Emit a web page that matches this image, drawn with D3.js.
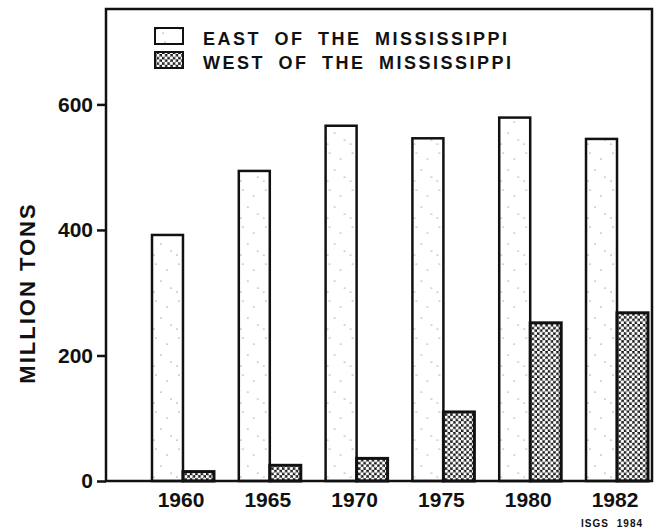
<!DOCTYPE html>
<html>
<head>
<meta charset="utf-8">
<script src="https://cdn.jsdelivr.net/npm/d3@7"></script>
<style>
  body { margin: 0; background: #fff; }
  text { font-family: "Liberation Sans", Arial, sans-serif; font-weight: bold; fill: #111; }
</style>
</head>
<body>
<div id="chart"></div>
<script>
// coal production, million tons
var years = ["1960", "1965", "1970", "1975", "1980", "1982"]
var east = [392, 494, 566, 546, 579, 545]
var west = [15, 25, 36, 110, 252, 268]
var series = ["east", "west"]
var legendLabels = ["EAST OF THE MISSISSIPPI", "WEST OF THE MISSISSIPPI"]
var yTicks = [0, 200, 400, 600]

var W = 660, H = 529
var plotL = 106, plotR = 652, plotT = 9, plotB = 481

var svg = d3.select("#chart").append("svg")
  .attr("width", W)
  .attr("height", H)

var defs = svg.append("defs")

// light stipple for east
var pe = defs.append("pattern")
  .attr("id", "stipple")
  .attr("patternUnits", "userSpaceOnUse")
  .attr("width", 23).attr("height", 37)
pe.append("rect").attr("width", 23).attr("height", 37).attr("fill", "#fff")
;[[4, 5], [15, 11], [9, 22], [19, 29], [2, 33]].forEach(function (p) {
  pe.append("circle").attr("cx", p[0]).attr("cy", p[1]).attr("r", 0.6).attr("fill", "#555")
})

// dense dot net for west
var pw = defs.append("pattern")
  .attr("id", "dots")
  .attr("patternUnits", "userSpaceOnUse")
  .attr("width", 5.4).attr("height", 5.4)
pw.append("rect").attr("width", 5.4).attr("height", 5.4).attr("fill", "#1a1a1a")
pw.append("circle").attr("cx", 1.35).attr("cy", 1.35).attr("r", 1.7).attr("fill", "#fff")
pw.append("circle").attr("cx", 4.05).attr("cy", 4.05).attr("r", 1.7).attr("fill", "#fff")

var fills = { east: "url(#stipple)", west: "url(#dots)" }

var x = d3.scaleBand()
  .domain(years)
  .range([152, 648])
  .paddingInner(0.286)
  .paddingOuter(0)

var xs = d3.scaleBand()
  .domain(series)
  .range([0, x.bandwidth()])

var y = d3.scaleLinear()
  .domain([0, 752])
  .range([plotB, plotT])

var rows = years.map(function (yr, i) {
  return { year: yr, east: east[i], west: west[i] }
})

// bars
var g = svg.append("g")
g.selectAll("g")
  .data(rows)
  .join("g")
  .attr("transform", d => `translate(${x(d.year)},0)`)
  .selectAll("rect")
  .data(d => series.map(k => ({ key: k, value: d[k] })))
  .join("rect")
  .attr("x", d => xs(d.key))
  .attr("y", d => y(d.value))
  .attr("width", xs.bandwidth())
  .attr("height", d => plotB - y(d.value))
  .attr("fill", d => fills[d.key])
  .attr("stroke", "#111")
  .attr("stroke-width", d => d.key == "west" ? 3 : 2.5)

// frame
svg.append("rect")
  .attr("x", plotL).attr("y", plotT)
  .attr("width", plotR - plotL).attr("height", plotB - plotT)
  .attr("fill", "none")
  .attr("stroke", "#111")
  .attr("stroke-width", 2.5)

// y axis
var ya = svg.append("g")
  .attr("transform", `translate(${plotL},0)`)
  .call(d3.axisLeft(y).tickValues(yTicks).tickSize(9).tickPadding(4))
ya.select(".domain").remove()
ya.selectAll("line").attr("stroke", "#111").attr("stroke-width", 2.5)
ya.selectAll("text").attr("font-size", 21).style("font-family", "Liberation Sans, Arial").style("font-weight", "bold").attr("fill", "#111")

// x axis labels
var xa = svg.append("g")
  .attr("transform", `translate(0,${plotB})`)
  .call(d3.axisBottom(x).tickSize(0).tickPadding(11))
xa.select(".domain").remove()
xa.selectAll("text").attr("font-size", 21).attr("dx", -2).style("font-family", "Liberation Sans, Arial").style("font-weight", "bold").attr("fill", "#111")

// axis title
svg.append("text")
  .attr("transform", "translate(35,293) rotate(-90)")
  .attr("text-anchor", "middle")
  .attr("font-size", 22)
  .attr("letter-spacing", 2)
  .text("MILLION TONS")

// legend
var lg = svg.append("g")
series.forEach(function (k, i) {
  var yy = 28 + i * 24
  lg.append("rect")
    .attr("x", 155).attr("y", yy)
    .attr("width", 28).attr("height", 16)
    .attr("fill", fills[k])
    .attr("stroke", "#111")
    .attr("stroke-width", 2)
  lg.append("text")
    .attr("x", 203).attr("y", yy + 17)
    .attr("font-size", 18)
    .attr("letter-spacing", 2.5)
    .attr("word-spacing", 6)
    .text(legendLabels[i])
})

// credit
svg.append("text")
  .attr("x", 643).attr("y", 527)
  .attr("text-anchor", "end")
  .attr("font-size", 10)
  .attr("letter-spacing", 1)
  .attr("word-spacing", 4)
  .text("ISGS 1984")
</script>
</body>
</html>
